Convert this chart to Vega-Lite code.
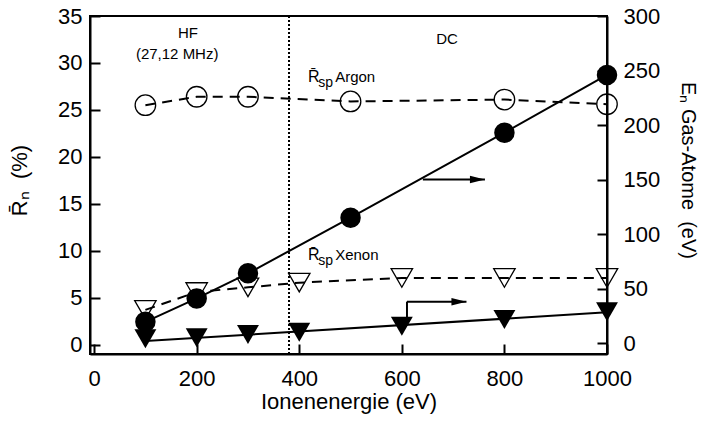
{
  "$schema": "https://vega.github.io/schema/vega-lite/v6.json",
  "width": 517,
  "height": 338,
  "autosize": "none",
  "padding": {"left": 90, "top": 16, "right": 97, "bottom": 67},
  "background": "white",
  "config": {
    "font": "Liberation Sans",
    "view": {"stroke": "black", "strokeWidth": 2},
    "axis": {
      "grid": false,
      "domainColor": "black",
      "domainWidth": 2,
      "tickColor": "black",
      "tickWidth": 2,
      "tickSize": -10,
      "labelColor": "black",
      "labelFont": "Liberation Sans",
      "labelFontSize": 22,
      "labelFlush": false,
      "labelOverlap": false,
      "titleColor": "black",
      "titleFont": "Liberation Sans",
      "titleFontSize": 22,
      "titleFontWeight": "normal"
    }
  },
  "datasets": {
    "grenze": [{"e": 380}],
    "rsp_argon": [
      {"e": 100, "r": 25.5},
      {"e": 200, "r": 26.4},
      {"e": 300, "r": 26.4},
      {"e": 500, "r": 25.9},
      {"e": 800, "r": 26.1},
      {"e": 1000, "r": 25.6}
    ],
    "rsp_xenon": [
      {"e": 100, "r": 3.7},
      {"e": 200, "r": 5.6},
      {"e": 300, "r": 6.1},
      {"e": 400, "r": 6.6},
      {"e": 600, "r": 7.1},
      {"e": 800, "r": 7.1},
      {"e": 1000, "r": 7.1}
    ],
    "en_argon": [
      {"e": 100, "en": 19.5},
      {"e": 200, "en": 41},
      {"e": 300, "en": 64},
      {"e": 500, "en": 115},
      {"e": 800, "en": 193},
      {"e": 1000, "en": 246}
    ],
    "en_xenon": [
      {"e": 100, "en": 3.9},
      {"e": 200, "en": 4.9},
      {"e": 300, "en": 7.9},
      {"e": 400, "en": 10},
      {"e": 600, "en": 15.5},
      {"e": 800, "en": 21.6},
      {"e": 1000, "en": 28.7}
    ],
    "en_xenon_fit": [
      {"e": 100, "en": 1.9},
      {"e": 1000, "en": 28.2}
    ],
    "pfeil_linien": [
      {"e": 641, "e2": 762, "en": 150, "en2": 150},
      {"e": 610, "e2": 610, "en": 21, "en2": 38},
      {"e": 610, "e2": 726, "en": 38, "en2": 38}
    ],
    "pfeil_spitzen": [
      {"e": 762, "en": 150},
      {"e": 726, "en": 38}
    ],
    "bereich": [
      {"e": 183, "r": 33.2, "t": "HF"},
      {"e": 162, "r": 30.9, "t": "(27,12 MHz)"},
      {"e": 688, "r": 32.5, "t": "DC"}
    ],
    "r_zeichen": [
      {"e": 417, "r": 28.0, "t": "R\u0304"},
      {"e": 417, "r": 9.0, "t": "R\u0304"}
    ],
    "sp_zeichen": [
      {"e": 437, "r": 28.0, "t": "sp"},
      {"e": 437, "r": 9.0, "t": "sp"}
    ],
    "gas_namen": [
      {"e": 470, "r": 28.0, "t": "Argon"},
      {"e": 470, "r": 9.0, "t": "Xenon"}
    ]
  },
  "encoding": {
    "x": {
      "field": "e",
      "type": "quantitative",
      "scale": {"domain": [-8, 1000], "nice": false, "zero": false},
      "axis": {
        "orient": "bottom",
        "values": [0, 200, 400, 600, 800, 1000],
        "format": "d",
        "labelPadding": 24,
        "title": "Ionenenergie (eV)",
        "titlePadding": 2
      }
    }
  },
  "layer": [
    {
      "data": {"name": "grenze"},
      "mark": {"type": "rule", "color": "black", "strokeWidth": 2, "strokeDash": [2, 2]},
      "encoding": {}
    },
    {
      "encoding": {
        "y": {
          "field": "r",
          "type": "quantitative",
          "scale": {"domain": [-1, 35], "nice": false, "zero": false},
          "axis": {
            "orient": "left",
            "values": [0, 5, 10, 15, 20, 25, 30, 35],
            "labelPadding": 18,
            "title": "R\u0304\u2099\u00a0\u00a0(%)",
            "titlePadding": 26,
            "titleY": 164
          }
        }
      },
      "layer": [
        {
          "data": {"name": "rsp_argon"},
          "mark": {"type": "line", "color": "black", "strokeWidth": 2, "strokeDash": [10, 7]}
        },
        {
          "data": {"name": "rsp_argon"},
          "mark": {"type": "point", "shape": "circle", "filled": false, "color": "black", "strokeWidth": 1.3, "size": 420, "opacity": 1}
        },
        {
          "data": {"name": "rsp_xenon"},
          "mark": {"type": "line", "color": "black", "strokeWidth": 2, "strokeDash": [10, 7]}
        },
        {
          "data": {"name": "rsp_xenon"},
          "mark": {"type": "point", "shape": "triangle-down", "filled": false, "color": "black", "strokeWidth": 1.3, "size": 460, "opacity": 1}
        },
        {
          "data": {"name": "bereich"},
          "mark": {"type": "text", "font": "Liberation Sans", "fontSize": 15, "color": "black", "align": "center", "baseline": "middle"},
          "encoding": {"text": {"field": "t"}}
        },
        {
          "data": {"name": "r_zeichen"},
          "mark": {"type": "text", "font": "Liberation Sans", "fontSize": 16, "color": "black", "align": "left", "baseline": "alphabetic"},
          "encoding": {"text": {"field": "t"}}
        },
        {
          "data": {"name": "sp_zeichen"},
          "mark": {"type": "text", "font": "Liberation Sans", "fontSize": 14, "color": "black", "align": "left", "baseline": "alphabetic", "dy": 5},
          "encoding": {"text": {"field": "t"}}
        },
        {
          "data": {"name": "gas_namen"},
          "mark": {"type": "text", "font": "Liberation Sans", "fontSize": 15, "color": "black", "align": "left", "baseline": "alphabetic"},
          "encoding": {"text": {"field": "t"}}
        }
      ]
    },
    {
      "encoding": {
        "y": {
          "field": "en",
          "type": "quantitative",
          "scale": {"domain": [-10, 300], "nice": false, "zero": false},
          "axis": {
            "orient": "right",
            "values": [0, 50, 100, 150, 200, 250, 300],
            "labelPadding": 26,
            "title": "E\u2099 Gas-Atome\u00a0\u00a0(eV)",
            "titleFontSize": 20,
            "titlePadding": 18,
            "titleY": 154
          }
        }
      },
      "layer": [
        {
          "data": {"name": "en_argon"},
          "mark": {"type": "line", "color": "black", "strokeWidth": 2}
        },
        {
          "data": {"name": "en_argon"},
          "mark": {"type": "point", "shape": "circle", "filled": true, "color": "black", "size": 420, "opacity": 1}
        },
        {
          "data": {"name": "en_xenon_fit"},
          "mark": {"type": "line", "color": "black", "strokeWidth": 2}
        },
        {
          "data": {"name": "en_xenon"},
          "mark": {"type": "point", "shape": "triangle-down", "filled": true, "color": "black", "size": 480, "opacity": 1}
        },
        {
          "data": {"name": "pfeil_linien"},
          "mark": {"type": "rule", "color": "black", "strokeWidth": 2},
          "encoding": {
            "x2": {"field": "e2"},
            "y2": {"field": "en2"}
          }
        },
        {
          "data": {"name": "pfeil_spitzen"},
          "mark": {"type": "point", "shape": "M0,0L-2,-0.5L-2,0.5Z", "filled": true, "color": "black", "size": 225, "opacity": 1, "strokeWidth": 0}
        }
      ]
    }
  ],
  "resolve": {"scale": {"y": "independent"}}
}
